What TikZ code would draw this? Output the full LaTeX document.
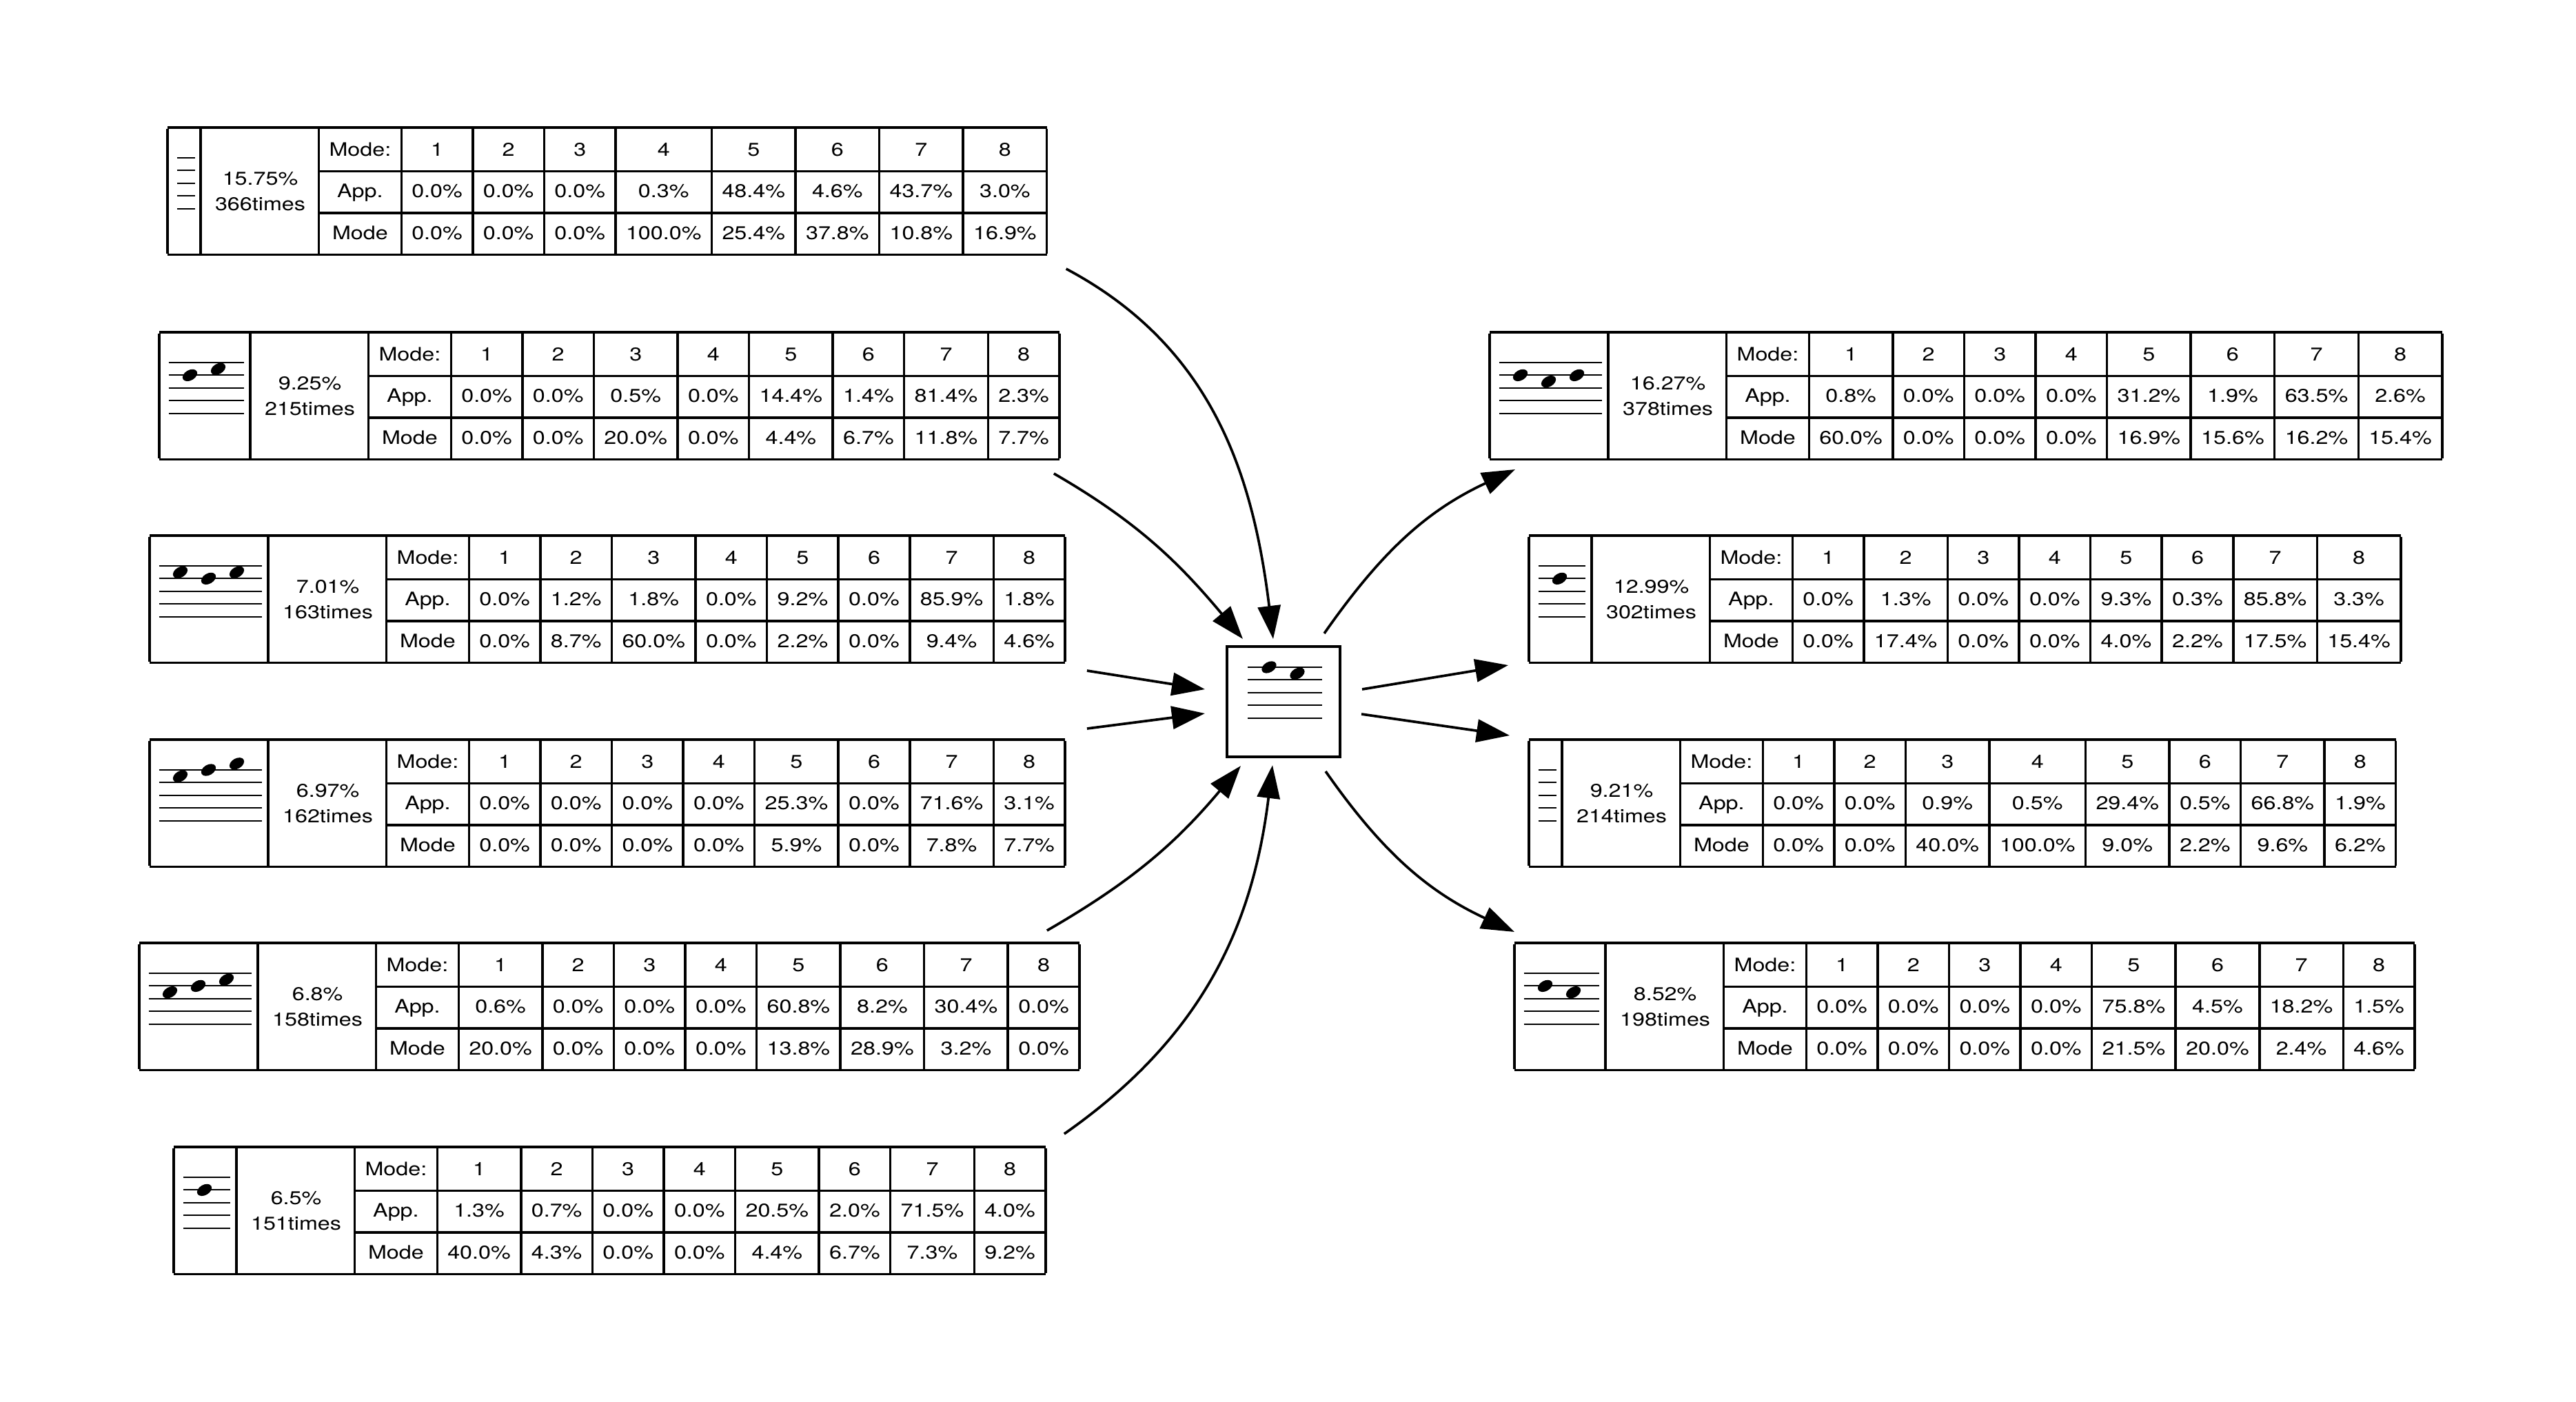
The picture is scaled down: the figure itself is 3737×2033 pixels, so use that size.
\documentclass[tikz,border=0pt]{standalone}
\usepackage{fontspec}
\setmainfont{TeX Gyre Heros}[FakeStretch=1.2]
\usetikzlibrary{calc,arrows.meta}
\newcommand\tabfont{\fontsize{7.65pt}{10.44pt}\selectfont}
\newcommand\rs{\rule[-0.205cm]{0pt}{0.603cm}}
\newcommand\pctcell[2]{\raisebox{0.1835cm}{\smash{\begin{tabular}[t]{@{}c@{}}#1\\#2\end{tabular}}}}
\setlength\arrayrulewidth{0.035cm}
\setlength\tabcolsep{0.15cm}
\newcommand\mktable[7]{%
 \node[tbl] (#1) at (#2) {\begin{tabular}{|@{}c@{}|@{\hspace{0.195cm}}c@{\hspace{0.195cm}}|c|c|c|c|c|c|c|c|c|}
 \hline
 \hspace*{#3}\rs & & Mode: & 1 & 2 & 3 & 4 & 5 & 6 & 7 & 8\\ \cline{3-11}
 \rs & \pctcell{#4}{#5} & App. & #6\\ \cline{3-11}
 \rs & & Mode & #7\\ \hline
 \end{tabular}};}
\newcommand\stafflines[2]{\foreach \k in {0,...,4} \draw[staffln] ($(#1.north west)+({13.5},{-46-18.4*\k})$) -- ++(#2,0);}
\newcommand\nt[3]{\fill[shift={($(#1.north west)+({44.5+41*#2},{-46-9.2*#3})$)}, rotate=30] (0,0) ellipse [x radius=11.5, y radius=7.5];}
\begin{document}
\begin{tikzpicture}[x=0.01cm,y=0.01cm,
  tbl/.style={anchor=north west, inner sep=0pt, outer sep=0pt, font=\tabfont},
  staffln/.style={line width=0.02cm},
  conn/.style={line width=0.037cm, -{Triangle[length=0.48cm,width=0.33cm]}},
  centerbox/.style={draw, line width=0.037cm, minimum width=1.64cm, minimum height=1.6cm, inner sep=0pt, outer sep=0pt}]
\useasboundingbox (0,0) rectangle (3737,-2033);

% left tables
\mktable{t1}{243,-183}{0.46cm}{15.75\%}{366times}{0.0\% & 0.0\% & 0.0\% & 0.3\% & 48.4\% & 4.6\% & 43.7\% & 3.0\%}{0.0\% & 0.0\% & 0.0\% & 100.0\% & 25.4\% & 37.8\% & 10.8\% & 16.9\%}
\mktable{t2}{231,-480}{1.30cm}{9.25\%}{215times}{0.0\% & 0.0\% & 0.5\% & 0.0\% & 14.4\% & 1.4\% & 81.4\% & 2.3\%}{0.0\% & 0.0\% & 20.0\% & 0.0\% & 4.4\% & 6.7\% & 11.8\% & 7.7\%}
\mktable{t3}{217,-775}{1.70cm}{7.01\%}{163times}{0.0\% & 1.2\% & 1.8\% & 0.0\% & 9.2\% & 0.0\% & 85.9\% & 1.8\%}{0.0\% & 8.7\% & 60.0\% & 0.0\% & 2.2\% & 0.0\% & 9.4\% & 4.6\%}
\mktable{t4}{217,-1071}{1.70cm}{6.97\%}{162times}{0.0\% & 0.0\% & 0.0\% & 0.0\% & 25.3\% & 0.0\% & 71.6\% & 3.1\%}{0.0\% & 0.0\% & 0.0\% & 0.0\% & 5.9\% & 0.0\% & 7.8\% & 7.7\%}
\mktable{t5}{202,-1366}{1.70cm}{6.8\%}{158times}{0.6\% & 0.0\% & 0.0\% & 0.0\% & 60.8\% & 8.2\% & 30.4\% & 0.0\%}{20.0\% & 0.0\% & 0.0\% & 0.0\% & 13.8\% & 28.9\% & 3.2\% & 0.0\%}
\mktable{t6}{252,-1662}{0.89cm}{6.5\%}{151times}{1.3\% & 0.7\% & 0.0\% & 0.0\% & 20.5\% & 2.0\% & 71.5\% & 4.0\%}{40.0\% & 4.3\% & 0.0\% & 0.0\% & 4.4\% & 6.7\% & 7.3\% & 9.2\%}

% right tables
\mktable{r1}{2161,-480}{1.70cm}{16.27\%}{378times}{0.8\% & 0.0\% & 0.0\% & 0.0\% & 31.2\% & 1.9\% & 63.5\% & 2.6\%}{60.0\% & 0.0\% & 0.0\% & 0.0\% & 16.9\% & 15.6\% & 16.2\% & 15.4\%}
\mktable{r2}{2218,-775}{0.89cm}{12.99\%}{302times}{0.0\% & 1.3\% & 0.0\% & 0.0\% & 9.3\% & 0.3\% & 85.8\% & 3.3\%}{0.0\% & 17.4\% & 0.0\% & 0.0\% & 4.0\% & 2.2\% & 17.5\% & 15.4\%}
\mktable{r3}{2218,-1071}{0.46cm}{9.21\%}{214times}{0.0\% & 0.0\% & 0.9\% & 0.5\% & 29.4\% & 0.5\% & 66.8\% & 1.9\%}{0.0\% & 0.0\% & 40.0\% & 100.0\% & 9.0\% & 2.2\% & 9.6\% & 6.2\%}
\mktable{r4}{2197,-1366}{1.30cm}{8.52\%}{198times}{0.0\% & 0.0\% & 0.0\% & 0.0\% & 75.8\% & 4.5\% & 18.2\% & 1.5\%}{0.0\% & 0.0\% & 0.0\% & 0.0\% & 21.5\% & 20.0\% & 2.4\% & 4.6\%}

% staff icons
\stafflines{t1}{26}
\stafflines{t2}{109} \nt{t2}{0}{2} \nt{t2}{1}{1}
\stafflines{t3}{149} \nt{t3}{0}{1} \nt{t3}{1}{2} \nt{t3}{2}{1}
\stafflines{t4}{149} \nt{t4}{0}{1} \nt{t4}{1}{0} \nt{t4}{2}{-1}
\stafflines{t5}{149} \nt{t5}{0}{3} \nt{t5}{1}{2} \nt{t5}{2}{1}
\stafflines{t6}{68} \nt{t6}{0}{2}
\stafflines{r1}{149} \nt{r1}{0}{2} \nt{r1}{1}{3} \nt{r1}{2}{2}
\stafflines{r2}{68} \nt{r2}{0}{2}
\stafflines{r3}{26}
\stafflines{r4}{109} \nt{r4}{0}{2} \nt{r4}{1}{3}

% center box
\node[centerbox] (c) at (1862,-1018) {};
\foreach \k in {0,...,4} \draw[staffln] ($(c.north west)+({30},{-30-18.4*\k})$) -- ++(108,0);
\fill[shift={($(c.north west)+(61,-30)$)}, rotate=30] (0,0) ellipse [x radius=11.5, y radius=7.5];
\fill[shift={($(c.north west)+(102,-39.2)$)}, rotate=30] (0,0) ellipse [x radius=11.5, y radius=7.5];

% incoming arrows
\draw[conn] ($(t1.south east)+(28,-19)$) to[out=-28,in=97] ($(c.north)+(-15,11)$);
\draw[conn] ($(t2.south east)+(-8,-19)$) to[out=-30,in=130] ($(c.north west)+(23,11)$);
\draw[conn] ($(t3.south east)+(32,-10)$) -- ($(c.west)+(-32,18)$);
\draw[conn] ($(t4.north east)+(32,14)$) -- ($(c.west)+(-32,-17)$);
\draw[conn] ($(t5.north east)+(-47,16)$) to[out=30,in=-130] ($(c.south west)+(20,-13)$);
\draw[conn] ($(t6.north east)+(27,17)$) to[out=35,in=-97] ($(c.south)+(-16,-12)$);

% outgoing arrows
\draw[conn] ($(c.north east)+(-23,19)$) to[out=55,in=-155] ($(r1.south west)+(37,-13)$);
\draw[conn] ($(c.east)+(32,18)$) -- ($(r2.south west)+(-30,-2)$);
\draw[conn] ($(c.east)+(31,-18)$) -- ($(r3.north west)+(-28,4)$);
\draw[conn] ($(c.south east)+(-21,-21)$) to[out=-55,in=155] ($(r4.north west)+(0,14)$);
\end{tikzpicture}
\end{document}
